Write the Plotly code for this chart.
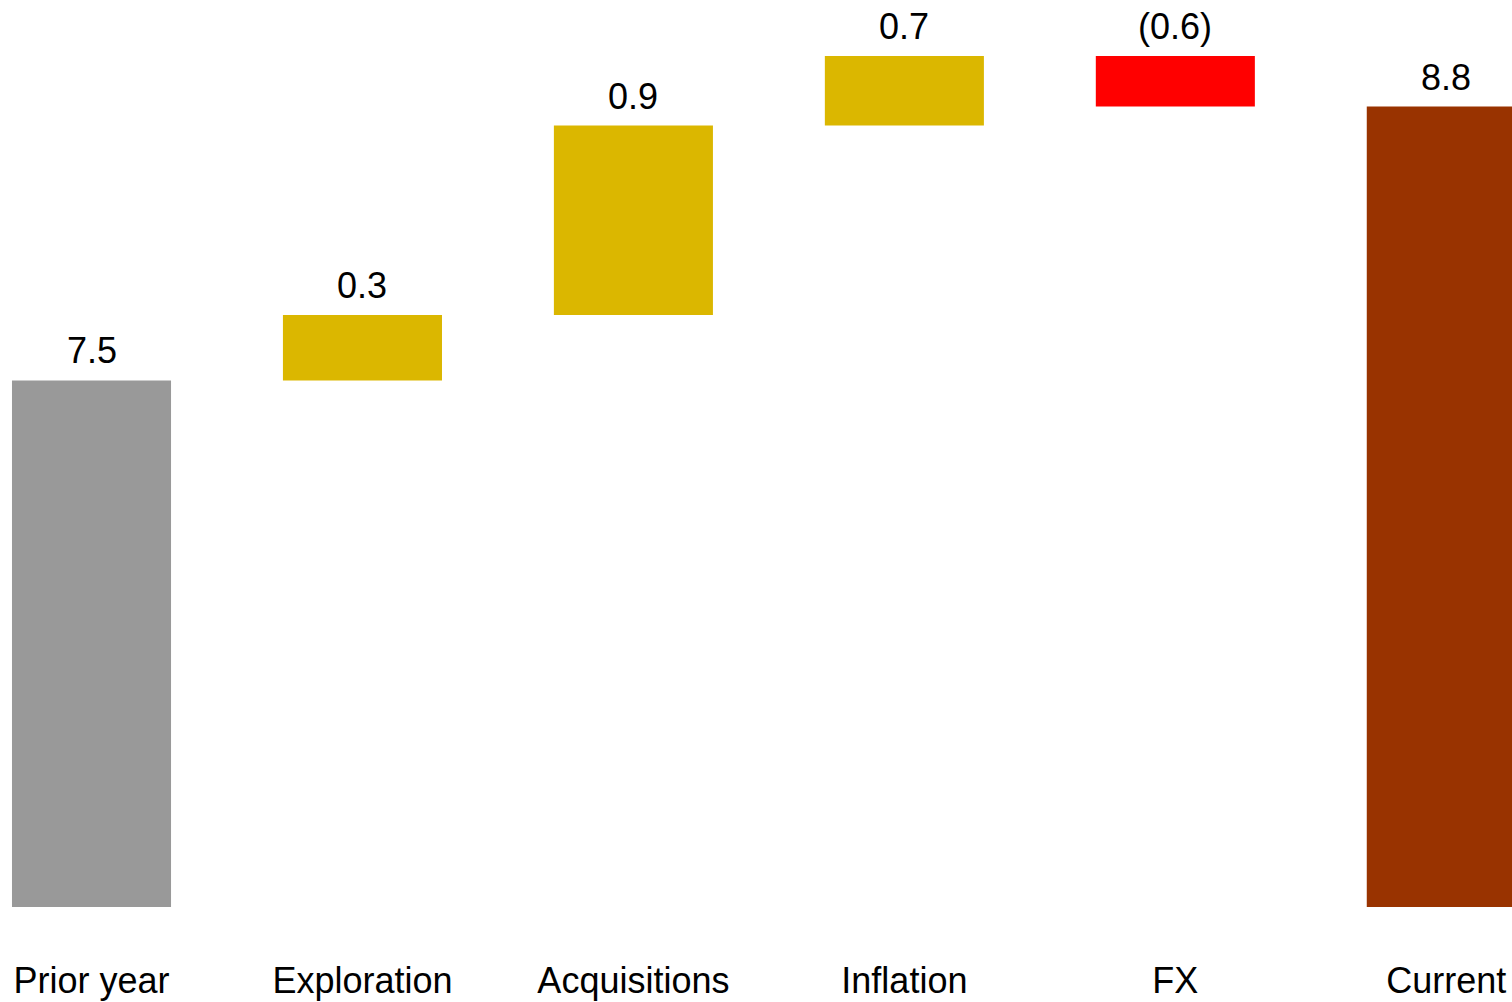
import plotly.graph_objects as go

categories = ["Prior year", "Exploration", "Acquisitions", "Inflation", "FX", "Current"]
values = [7.5, 0.31, 0.9, 0.69, -0.6, 8.8]
kinds = ["total", "delta", "delta", "delta", "delta", "total"]
colors = ["#999999", "#dbb700", "#dbb700", "#dbb700", "#ff0000", "#993300"]

Y_MIN, Y_MAX = 5.0, 9.04
FONT = "Liberation Sans, Arial, sans-serif"


def fmt(v):
    # negatives shown in parentheses, one decimal
    return f"({abs(v):.1f})" if v < 0 else f"{v:.1f}"


# running bases for the waterfall
bases, heights, tops = [], [], []
running = 0.0
for v, k in zip(values, kinds):
    if k == "total":
        bases.append(0.0)
        heights.append(v)
        running = v
        tops.append(v)
    else:
        bases.append(running)
        heights.append(v)
        tops.append(max(running, running + v))
        running += v

fig = go.Figure(
    go.Bar(
        x=categories,
        y=heights,
        base=bases,
        width=0.587,
        marker=dict(color=colors, line=dict(width=0)),
        hoverinfo="skip",
    )
)

for cat, v, top in zip(categories, values, tops):
    fig.add_annotation(
        x=cat,
        y=min(top, Y_MAX),
        text=fmt(v),
        showarrow=False,
        yanchor="bottom",
        yshift=7,
        font=dict(size=36, color="#000000", family=FONT),
    )

fig.update_layout(
    width=1512,
    height=1002,
    margin=dict(l=0, r=0, t=56, b=95),
    plot_bgcolor="white",
    paper_bgcolor="white",
    showlegend=False,
    font=dict(family=FONT, size=36, color="#000000"),
)
fig.update_xaxes(
    range=[-0.3377, 5.2425],
    showgrid=False,
    showline=False,
    zeroline=False,
    ticks="",
    ticklabelstandoff=49,
    tickfont=dict(size=36, color="#000000", family=FONT),
)
fig.update_yaxes(
    range=[Y_MIN, Y_MAX],
    visible=False,
    showgrid=False,
    zeroline=False,
)

fig.write_html(
    "out.html",
    config={"displayModeBar": False},
    post_script="document.body.style.margin='0';document.body.style.overflow='hidden';",
)
